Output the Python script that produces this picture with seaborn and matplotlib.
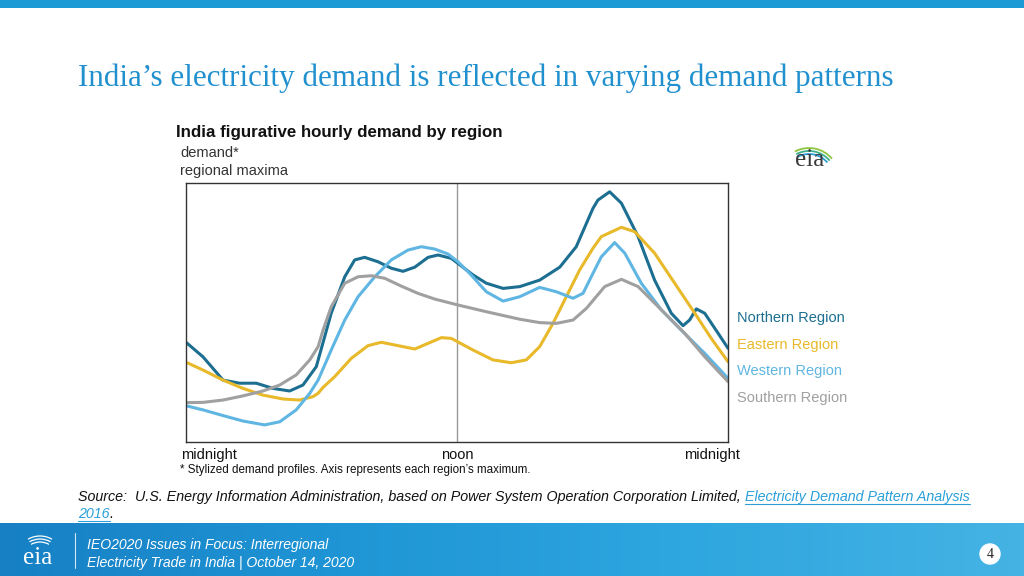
import numpy as np
import pandas as pd
import matplotlib
matplotlib.use("Agg")
import matplotlib.pyplot as plt
import seaborn as sns
from matplotlib.patches import Rectangle, Circle, Arc
from matplotlib.colors import LinearSegmentedColormap

# ---------------- data (hour of day, share of regional maximum on axis scale) ----------------
regions = ["Northern Region", "Eastern Region", "Western Region", "Southern Region"]

north_hours = [0.00, 0.75, 1.64, 2.38, 3.11, 3.85, 4.59, 5.18, 5.77, 6.43, 7.03, 7.47, 7.91, 8.50,
               9.09, 9.61, 10.13, 10.72, 11.16, 11.75, 12.71, 13.30, 14.04, 14.78, 15.66, 16.55,
               17.28, 18.02, 18.24, 18.76, 19.28, 20.02, 20.75, 21.49, 22.01, 22.30, 22.60, 22.97,
               23.56, 24.00]
north_vals = [38.5, 32.9, 23.9, 22.7, 22.7, 20.7, 19.7, 22.0, 29.1, 49.7, 63.8, 70.3, 71.3, 69.6,
              67.1, 65.9, 67.5, 71.3, 72.2, 70.9, 64.5, 61.3, 59.3, 60.0, 62.5, 67.5,
              75.4, 90.2, 93.4, 96.6, 92.2, 79.3, 62.5, 49.7, 44.9, 47.1, 51.4, 49.7,
              42.0, 36.2]

east_hours = [0.00, 0.75, 1.64, 2.52, 3.41, 4.30, 5.03, 5.62, 5.85, 6.07, 6.58, 7.32, 8.06, 8.65,
              9.39, 10.13, 10.72, 11.31, 11.75, 12.71, 13.59, 14.40, 15.07, 15.66, 16.25, 16.84,
              17.43, 18.02, 18.39, 19.28, 19.87, 20.75, 21.64, 22.53, 23.26, 24.00]
east_vals = [30.8, 27.8, 23.9, 20.7, 18.1, 16.6, 16.2, 17.5, 18.8, 21.1, 25.2, 32.3, 37.2, 38.5,
             37.2, 35.9, 38.1, 40.3, 40.0, 35.5, 31.7, 30.6, 31.7, 36.8, 45.8, 56.1,
             66.4, 74.8, 79.3, 82.9, 81.2, 72.9, 61.3, 49.7, 40.0, 31.0]

west_hours = [0.00, 0.75, 1.64, 2.52, 3.48, 4.15, 4.88, 5.48, 5.85, 6.43, 7.03, 7.62, 8.36, 9.09,
              9.83, 10.42, 11.01, 11.60, 12.04, 12.56, 13.30, 14.04, 14.78, 15.66, 16.40, 17.14,
              17.58, 18.02, 18.39, 18.98, 19.43, 20.16, 21.05, 21.93, 22.97, 24.00]
west_vals = [14.0, 12.4, 10.2, 8.1, 6.6, 7.8, 12.4, 18.8, 23.9, 35.5, 47.1, 56.1, 63.8, 70.3,
             74.1, 75.4, 74.5, 72.6, 69.6, 65.1, 58.0, 54.4, 56.1, 59.7, 58.0, 55.5,
             57.4, 65.1, 71.5, 77.0, 72.9, 61.3, 51.0, 43.2, 34.2, 24.6]

south_hours = [0.00, 0.75, 1.64, 2.52, 3.41, 4.15, 4.88, 5.48, 5.85, 6.07, 6.43, 7.03, 7.62, 8.21,
               8.80, 9.53, 10.27, 11.01, 12.04, 13.30, 14.78, 15.66, 16.40, 17.14, 17.73, 18.54,
               19.28, 20.02, 21.05, 22.08, 22.97, 24.00]
south_vals = [15.2, 15.3, 16.2, 17.8, 19.7, 22.0, 25.9, 31.7, 36.8, 43.2, 52.2, 61.3, 63.8, 64.2,
              63.2, 60.2, 57.4, 55.2, 52.9, 50.3, 47.4, 46.1, 45.8, 47.1, 51.6, 60.0,
              62.8, 60.0, 51.0, 42.0, 32.9, 23.3]

x_tick_labels = ["midnight", "noon", "midnight"]

colors = {"Northern Region": "#1c6f91", "Eastern Region": "#e8b92a",
          "Western Region": "#5fb6e2", "Southern Region": "#a0a0a0"}

frames = []
for name, hrs, vals in zip(regions, [north_hours, east_hours, west_hours, south_hours],
                           [north_vals, east_vals, west_vals, south_vals]):
    frames.append(pd.DataFrame({"hour": hrs, "demand": vals, "region": name}))
df = pd.concat(frames, ignore_index=True)

# ---------------- figure ----------------
sns.set_theme(style="white")
plt.rcParams["font.family"] = ["Liberation Sans", "DejaVu Sans"]

W, H = 1024, 576
fig = plt.figure(figsize=(W / 100, H / 100), dpi=100)
fig.patch.set_facecolor("white")

ov = fig.add_axes([0, 0, 1, 1])
ov.set_xlim(0, W)
ov.set_ylim(H, 0)
ov.axis("off")
ov.patch.set_alpha(0)

serif = ["Liberation Serif", "DejaVu Serif"]
sans = ["Liberation Sans", "DejaVu Sans"]

# top bar
ov.add_patch(Rectangle((0, 0), W, 8, color="#1b9ad6", lw=0))

# slide title
ov.text(78, 78, "India\u2019s electricity demand is reflected in varying demand patterns",
        family=serif, fontsize=22.4, color="#2190cf", va="center", ha="left")

# chart titles
ov.text(176, 132, "India figurative hourly demand by region", fontsize=12.2, fontweight="bold",
        color="#111111", va="center", ha="left")
ov.text(180, 153, "demand*", fontsize=10.5, color="#333333", va="center", ha="left")
ov.text(180, 171, "regional maxima", fontsize=10.5, color="#333333", va="center", ha="left")

# eia logo (top right)
ov.text(810, 160, "eia", family=serif, fontsize=18, color="#3a3a3a", ha="center", va="center")
for (r, c) in [(30, "#8dc63f"), (27, "#3fae8a"), (24, "#2a9fd8")]:
    ov.add_patch(Arc((809, 178), 2 * r, 2 * r, theta1=-118, theta2=-40, color=c, lw=1.3))

# legend labels
leg_y = {"Northern Region": 318, "Eastern Region": 345, "Western Region": 371, "Southern Region": 398}
for name in regions:
    ov.text(737, leg_y[name], name, fontsize=10.5, color=colors[name], va="center", ha="left")

# x labels and footnote
ov.text(181, 455, x_tick_labels[0], fontsize=10.5, color="#111111", va="center", ha="left")
ov.text(457, 455, x_tick_labels[1], fontsize=10.5, color="#111111", va="center", ha="center")
ov.text(684, 455, x_tick_labels[2], fontsize=10.5, color="#111111", va="center", ha="left")
ov.text(180, 470, "* Stylized demand profiles. Axis represents each region\u2019s maximum.",
        fontsize=8.4, color="#111111", va="center", ha="left")

# source
src_fs = 10.25
t1 = ov.text(78, 497, "Source:  U.S. Energy Information Administration, based on Power System "
             "Operation Corporation Limited, ", family=sans, style="italic", fontsize=src_fs,
             color="#111111", va="center", ha="left")
fig.canvas.draw()
inv = ov.transData.inverted()
x_link = inv.transform((t1.get_window_extent().x1, 0))[0]
t2 = ov.text(x_link, 497, "Electricity Demand Pattern Analysis", family=sans, style="italic",
             fontsize=src_fs, color="#2a9fd8", va="center", ha="left")
t3 = ov.text(78, 514, "2016", family=sans, style="italic", fontsize=src_fs, color="#2a9fd8",
             va="center", ha="left")
fig.canvas.draw()
x_link_end = inv.transform((t2.get_window_extent().x1, 0))[0]
x_2016_end = inv.transform((t3.get_window_extent().x1, 0))[0]
ov.plot([x_link, x_link_end], [504, 504], color="#2a9fd8", lw=0.8)
ov.plot([78, x_2016_end], [521, 521], color="#2a9fd8", lw=0.8)
ov.text(x_2016_end, 514, ".", family=sans, style="italic", fontsize=src_fs, color="#111111",
        va="center", ha="left")

# footer band
cmap = LinearSegmentedColormap.from_list("foot", ["#1780c4", "#1f95d5", "#2ea6df", "#45b3e4"])
grad = np.linspace(0, 1, 256)[None, :]
ov.imshow(grad, extent=(0, W, 576, 523), cmap=cmap, aspect="auto", zorder=0)
ov.set_xlim(0, W)
ov.set_ylim(H, 0)
ov.plot([75, 75], [533, 568], color="white", lw=0.8, alpha=0.8)
ov.text(38, 558, "eia", family=serif, fontsize=18, color="white", ha="center", va="center")
for r in [24, 21, 18]:
    ov.add_patch(Arc((40, 560), 2 * r, 2 * r, theta1=-120, theta2=-60, color="white", lw=0.9))
ov.text(87, 545, "IEO2020 Issues in Focus: Interregional", family=sans, style="italic",
        fontsize=10.1, color="white", va="center", ha="left")
ov.text(87, 563, "Electricity Trade in India | October 14, 2020", family=sans, style="italic",
        fontsize=10.1, color="white", va="center", ha="left")
ov.add_patch(Circle((990, 554), 10, color="white"))
ov.text(990, 555, "4", family=serif, fontsize=10, color="#222222", ha="center", va="center")

# ---------------- chart ----------------
ax = fig.add_axes([186 / W, 1 - 442 / H, 542 / W, 259 / H])
sns.lineplot(data=df, x="hour", y="demand", hue="region", palette=colors, hue_order=regions,
             estimator=None, sort=True, linewidth=2.2, legend=False, ax=ax)
for ln in ax.get_lines():
    ln.set_solid_joinstyle("round")
    ln.set_solid_capstyle("round")
ax.axvline(12, color="#999999", lw=1.0, zorder=0)
ax.set_xlim(0, 24)
ax.set_ylim(0, 100)
ax.set_xticks([])
ax.set_yticks([])
ax.set_xlabel("")
ax.set_ylabel("")
for s in ax.spines.values():
    s.set_color("#333333")
    s.set_linewidth(1.0)

fig.savefig("out.png", dpi=100)
